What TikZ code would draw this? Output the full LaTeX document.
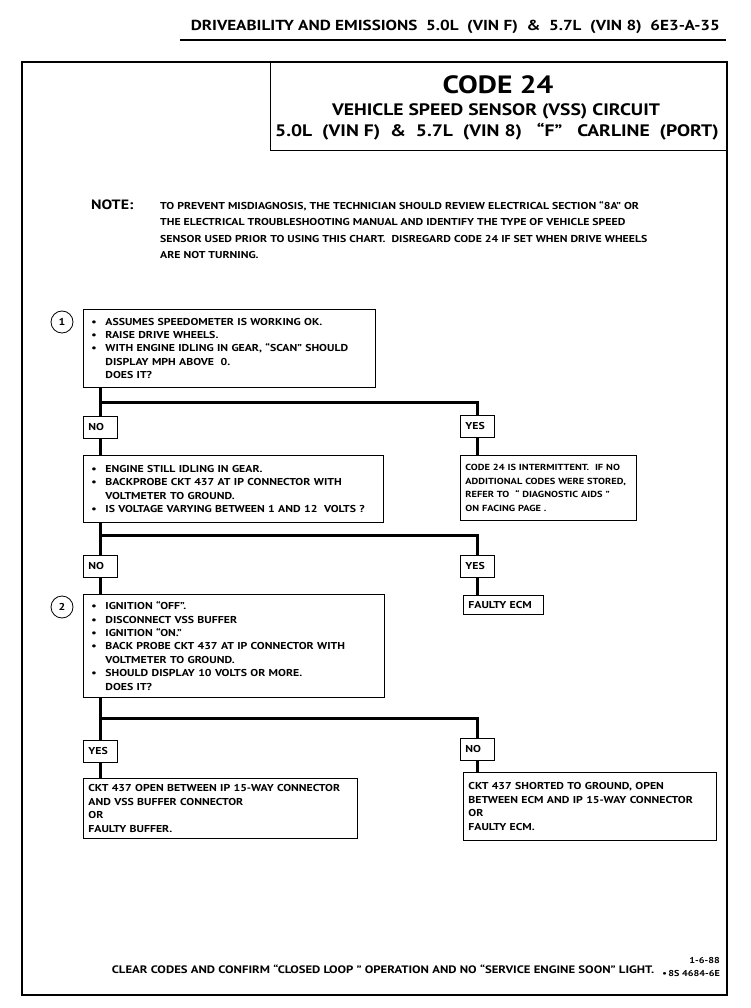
\documentclass[tikz,border=0pt]{standalone}
\usepackage{fontspec}
\setmainfont[FakeStretch=1.18]{PT Sans}
\usetikzlibrary{calc}
\newcommand{\bul}{\makebox[14pt][l]{\textbullet}}
\newcommand{\ind}{\hspace*{14pt}}
\begin{document}
\begin{tikzpicture}[x=1pt,y=-1pt,
  every node/.style={font=\bfseries\fontsize{10}{13.4}\selectfont},
  txtbox/.style={draw, line width=0.8pt, anchor=north west, align=left, inner ysep=0pt},
  lab/.style={draw, line width=0.8pt, anchor=north west, align=left, inner xsep=5pt, inner ysep=0pt, text width=24pt, minimum height=22pt},
  conn/.style={line width=3pt},
  num/.style={circle, draw, line width=0.8pt, minimum size=22pt, inner sep=0pt}]
\useasboundingbox (0,0) rectangle (750,1008);
% header
\node[anchor=base east, inner sep=0pt, font=\bfseries\fontsize{14.5}{18}\selectfont] (hdr) at (720,31) {DRIVEABILITY AND EMISSIONS\ \ 5.0L\ \ (VIN F)\ \ \&\ \ 5.7L\ \ (VIN 8)\ \ 6E3-A-35};
\coordinate (rl) at (180,40);
\coordinate (rr) at (726,40);
\draw[line width=1.2pt] (rl) -- (rr);
% frame
\draw[line width=1.2pt] (22,62) rectangle (727,995);
% title
\node[draw, line width=1pt, anchor=north west, minimum width=457pt, minimum height=88pt, inner sep=0pt] (title) at (270,62) {};
\node[anchor=base, inner sep=0pt, font=\bfseries\fontsize{25}{28}\selectfont] (t1) at (498,94) {CODE 24};
\node[anchor=base, inner sep=0pt, font=\bfseries\fontsize{16.6}{18}\selectfont] (t2) at (496,115.5) {VEHICLE SPEED SENSOR (VSS) CIRCUIT};
\node[anchor=base, inner sep=0pt, font=\bfseries\fontsize{16.6}{18}\selectfont] (t3) at (497,137) {5.0L\ \ (VIN F)\ \ \&\ \ 5.7L\ \ (VIN 8)\ \ \ ``F''\ \ \ CARLINE\ \ (PORT)};
% note
\node[anchor=base west, inner sep=0pt, font=\bfseries\fontsize{13.5}{15}\selectfont] (notelab) at (91,210) {NOTE:};
\node[anchor=north west, inner sep=0pt, align=left, font=\bfseries\fontsize{10}{16.5}\selectfont] (note) at (160,201)
 {TO PREVENT MISDIAGNOSIS, THE TECHNICIAN SHOULD REVIEW ELECTRICAL SECTION ``8A'' OR\\
  THE ELECTRICAL TROUBLESHOOTING MANUAL AND IDENTIFY THE TYPE OF VEHICLE SPEED\\
  SENSOR USED PRIOR TO USING THIS CHART.\ \ DISREGARD CODE 24 IF SET WHEN DRIVE WHEELS\\
  ARE NOT TURNING.};
% step 1
\node[num] (n1) at (62,322) {1};
\node[txtbox, inner xsep=8pt, text width=276pt, minimum height=78pt] (b1) at (83,309)
 {\bul ASSUMES SPEEDOMETER IS WORKING OK.\\
  \bul RAISE DRIVE WHEELS.\\
  \bul WITH ENGINE IDLING IN GEAR, ``SCAN'' SHOULD\\
  \ind DISPLAY MPH ABOVE\ \ 0.\\
  \ind DOES IT?};
\node[lab] (no1) at (83,416) {NO};
\node[lab] (yes1) at (460,415) {YES};
\coordinate (h1) at (100,402);
\draw[conn] (b1.south -| no1.north) -- (no1.north);
\draw[conn] (h1) -| (yes1.north);
% step 1a
\node[txtbox, inner xsep=8pt, text width=284pt, minimum height=67pt] (b2) at (83,455)
 {\bul ENGINE STILL IDLING IN GEAR.\\
  \bul BACKPROBE CKT 437 AT IP CONNECTOR WITH\\
  \ind VOLTMETER TO GROUND.\\
  \bul IS VOLTAGE VARYING BETWEEN 1 AND 12\ \ VOLTS ?};
\node[txtbox, inner xsep=5pt, text width=166pt, minimum height=65pt, font=\bfseries\fontsize{8.8}{13.4}\selectfont] (r1) at (460,455)
 {CODE 24 IS INTERMITTENT.\ \ IF NO\\
  ADDITIONAL CODES WERE STORED,\\
  REFER TO\ \ `` DIAGNOSTIC AIDS ''\\
  ON FACING PAGE .};
\draw[conn] (no1.south) -- (b2.north -| no1.south);
\draw[conn] (yes1.south) -- (r1.north -| yes1.south);
% branch 2
\node[lab] (no2) at (83,555) {NO};
\node[lab] (yes2) at (460,555) {YES};
\coordinate (h2) at (100,535);
\draw[conn] (b2.south -| no2.north) -- (no2.north);
\draw[conn] (h2) -| (yes2.north);
\node[draw, line width=0.8pt, anchor=north west, inner xsep=5pt, inner ysep=0pt, text width=70pt, minimum height=19pt, align=left] (ecm) at (463,595) {FAULTY ECM};
\draw[conn] (yes2.south) -- (ecm.north -| yes2.south);
% step 2
\node[num] (n2) at (62,607) {2};
\node[txtbox, inner xsep=8pt, text width=285pt, minimum height=103pt] (b3) at (83,594)
 {\bul IGNITION ``OFF''.\\
  \bul DISCONNECT VSS BUFFER\\
  \bul IGNITION ``ON.''\\
  \bul BACK PROBE CKT 437 AT IP CONNECTOR WITH\\
  \ind VOLTMETER TO GROUND.\\
  \bul SHOULD DISPLAY 10 VOLTS OR MORE.\\
  \ind DOES IT?};
\draw[conn] (no2.south) -- (b3.north -| no2.south);
% branch 3
\node[lab] (yes3) at (83,740) {YES};
\node[lab] (no3) at (460,738) {NO};
\coordinate (h3) at (100,718);
\draw[conn] (b3.south -| yes3.north) -- (yes3.north);
\draw[conn] (h3) -| (no3.north);
\node[txtbox, inner xsep=5pt, text width=264pt, minimum height=60pt] (l4) at (83,778)
 {CKT 437 OPEN BETWEEN IP 15-WAY CONNECTOR\\
  AND VSS BUFFER CONNECTOR\\
  OR\\
  FAULTY BUFFER.};
\node[txtbox, inner xsep=5pt, text width=243pt, minimum height=68pt] (r4) at (463,772)
 {CKT 437 SHORTED TO GROUND, OPEN\\
  BETWEEN ECM AND IP 15-WAY CONNECTOR\\
  OR\\
  FAULTY ECM.};
\draw[conn] (yes3.south) -- (l4.north -| yes3.south);
\draw[conn] (no3.south) -- (r4.north -| no3.south);
% footer
\node[anchor=base, inner sep=0pt, font=\bfseries\fontsize{10.8}{13}\selectfont] (foot) at (383,973) {CLEAR CODES AND CONFIRM ``CLOSED LOOP '' OPERATION AND NO ``SERVICE ENGINE SOON'' LIGHT.};
\node[anchor=base east, inner sep=0pt, font=\bfseries\fontsize{8.6}{10}\selectfont] (date) at (720,963) {1-6-88};
\node[anchor=base east, inner sep=0pt, font=\bfseries\fontsize{8.6}{10}\selectfont] (code) at (720,976) {\textbullet\,8S 4684-6E};
\end{tikzpicture}
\end{document}
